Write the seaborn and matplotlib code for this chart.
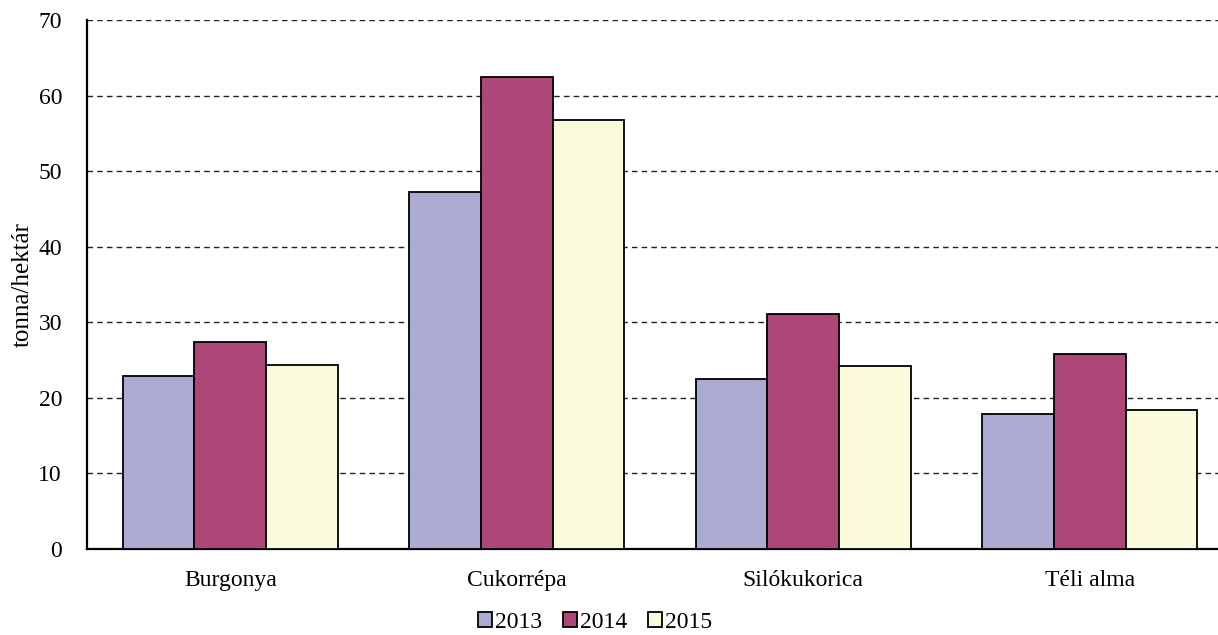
"""Termésátlagok 2013-2015 - oszlopdiagram."""
import matplotlib
matplotlib.use('Agg')
import matplotlib.pyplot as plt
import pandas as pd
import seaborn as sns
from matplotlib.patches import Patch

# %%
categories = ['Burgonya', 'Cukorrépa', 'Silókukorica', 'Téli alma']
years = ['2013', '2014', '2015']
yield_2013 = [22.9, 47.3, 22.5, 17.9]
yield_2014 = [27.4, 62.4, 31.1, 25.8]
yield_2015 = [24.4, 56.8, 24.2, 18.4]
colors = ['#ABAAD3', '#AD4777', '#FAFADC']

df = pd.DataFrame({
    'kategoria': categories * 3,
    'ev': [y for y in years for _ in categories],
    'ertek': yield_2013 + yield_2014 + yield_2015,
})

# %%
sns.set_style('white')
plt.rcParams['font.family'] = ['Liberation Serif', 'DejaVu Serif']
plt.rcParams['text.color'] = 'black'
plt.rcParams['xtick.color'] = 'black'
plt.rcParams['ytick.color'] = 'black'
plt.rcParams['axes.labelcolor'] = 'black'
fs = 17

fig = plt.figure(figsize=(12.18, 6.35), dpi=100)
ax = fig.add_axes([87 / 1218, 1 - 549 / 635, (1233 - 87) / 1218, (549 - 20) / 635])

sns.barplot(data=df, x='kategoria', y='ertek', hue='ev', order=categories,
            hue_order=years, palette=colors, width=0.75, saturation=1,
            edgecolor='black', linewidth=1.3, legend=False, ax=ax, zorder=3)

ax.set_ylim(0, 70)
ax.set_xlim(-0.5, 3.5)
ax.set_yticks(range(0, 71, 10))
ax.yaxis.grid(True, linestyle=(0, (4, 3)), color='#222222', linewidth=1.0, zorder=0)
ax.set_axisbelow(True)

ax.set_xticks(range(len(categories)))
ax.set_xticklabels(categories, fontsize=fs)
ax.set_xticks([i - 0.5 for i in range(len(categories) + 1)], minor=True)
ax.tick_params(axis='x', which='major', length=0, pad=15)
ax.tick_params(axis='x', which='minor', length=6, width=1.5, direction='out')
ax.tick_params(axis='y', length=6, width=1.5, direction='out', labelsize=fs, pad=12)

ax.set_xlabel('')
ax.set_ylabel('tonna/hektár', fontsize=18, labelpad=3)

for side in ['top', 'right']:
    ax.spines[side].set_visible(False)
for side in ['left', 'bottom']:
    ax.spines[side].set_color('black')
    ax.spines[side].set_linewidth(1.6)

handles = [Patch(facecolor=c, edgecolor='black', linewidth=1.3, label=y) for c, y in zip(colors, years)]
fig.legend(handles=handles, loc='center', bbox_to_anchor=(595 / 1218, 1 - 622 / 635),
           ncol=3, frameon=False, fontsize=fs, handlelength=0.6, handleheight=0.6,
           handletextpad=0.1, columnspacing=0.9)

plt.savefig('out.png', dpi=100)
